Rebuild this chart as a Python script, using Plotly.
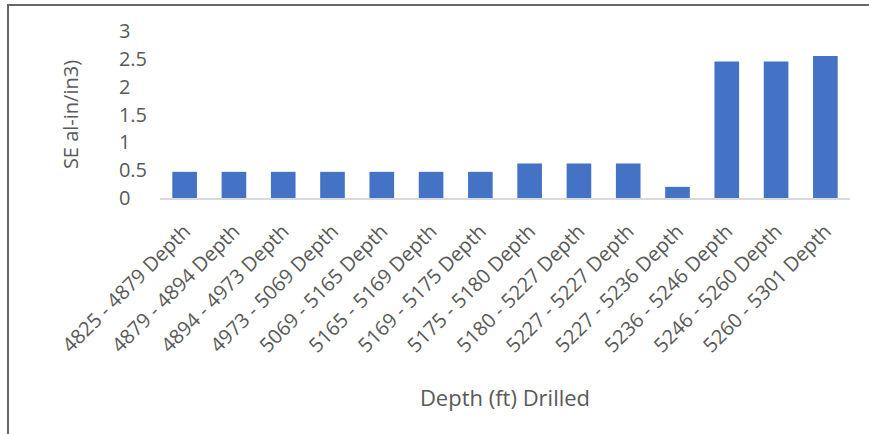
import plotly.graph_objects as go

# Drilled depth intervals and the SE reading for each
intervals = [
    "4825 - 4879 Depth", "4879 - 4894 Depth", "4894 - 4973 Depth",
    "4973 - 5069 Depth", "5069 - 5165 Depth", "5165 - 5169 Depth",
    "5169 - 5175 Depth", "5175 - 5180 Depth", "5180 - 5227 Depth",
    "5227 - 5227 Depth", "5227 - 5236 Depth", "5236 - 5246 Depth",
    "5246 - 5260 Depth", "5260 - 5301 Depth",
]
se_values = [0.47, 0.47, 0.47, 0.47, 0.47, 0.47, 0.47,
             0.62, 0.62, 0.62, 0.2, 2.45, 2.45, 2.55]

y_ticks = [0, 0.5, 1, 1.5, 2, 2.5, 3]
y_tick_text = ["0\u2008\u2007", "0.5", "1\u2008\u2007", "1.5",
               "2\u2008\u2007", "2.5", "3\u2008\u2007"]

W, H = 869, 434
ML, MR, MT, MB = 160, 19, 31, 236
pw, ph = W - ML - MR, H - MT - MB

TXT = "#595959"
FONT = "Open Sans, DejaVu Sans, sans-serif"

fig = go.Figure(go.Bar(
    x=intervals, y=se_values,
    marker=dict(color="#4472C4", line=dict(width=0)),
    width=0.5,
))

# Frame lines along the top and left edge of the chart area
def px_x(x):
    return (x - ML) / pw

def px_y(y):
    return (H - MB - y) / ph

frame = dict(color="#666666", width=2)
fig.add_shape(type="line", xref="paper", yref="paper",
              x0=px_x(7), x1=px_x(869), y0=px_y(5), y1=px_y(5), line=frame)
fig.add_shape(type="line", xref="paper", yref="paper",
              x0=px_x(8), x1=px_x(8), y0=px_y(5), y1=px_y(434), line=frame)

fig.update_layout(
    width=W, height=H,
    margin=dict(l=ML, r=MR, t=MT, b=MB, pad=0),
    paper_bgcolor="white", plot_bgcolor="white",
    font=dict(family=FONT, color=TXT, size=19),
    showlegend=False,
    bargap=0.5,
    xaxis=dict(
        tickangle=-45,
        tickfont=dict(size=20, color=TXT),
        showline=True, linecolor="#D9D9D9", linewidth=1.5,
        showgrid=False, ticks="",
        ticklabelstandoff=12,
        title=dict(text="Depth (ft) Drilled",
                   font=dict(size=22, color=TXT), standoff=34),
    ),
    yaxis=dict(
        range=[0, 3],
        tickvals=y_ticks, ticktext=y_tick_text,
        tickfont=dict(size=20, color=TXT),
        showgrid=False, zeroline=False, showline=False, ticks="",
        ticklabelstandoff=12,
        title=dict(text="SE al-in/in3)",
                   font=dict(size=20, color=TXT), standoff=34),
    ),
)

fig.write_html("out.html")
